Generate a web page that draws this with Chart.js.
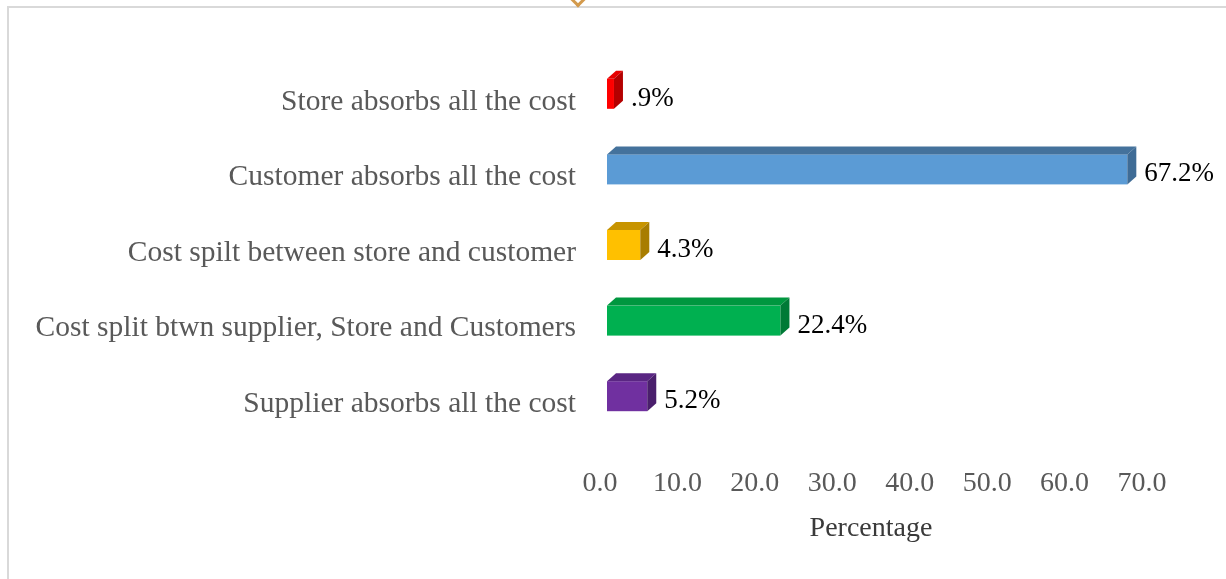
<!DOCTYPE html>
<html>
<head>
<meta charset="utf-8">
<title>Cost absorption</title>
<script src="https://cdn.jsdelivr.net/npm/chart.js@4.4.1/dist/chart.umd.min.js"></script>
<style>
  html, body { margin: 0; padding: 0; background: #fff; }
  #wrap { position: relative; width: 1226px; height: 579px; overflow: hidden; }
  #frame {
    position: absolute; left: 7px; top: 6px; width: 1240px; height: 600px;
    border-left: 2px solid #d9d9d9; border-top: 2px solid #d9d9d9;
  }
  #clip {
    position: absolute; left: 572px; top: -7px; width: 9px; height: 9px;
    border-bottom: 3px solid #d39a4c; border-right: 3px solid #d39a4c;
    transform: rotate(45deg);
  }
  canvas { position: absolute; left: 0; top: 0; }
</style>
</head>
<body>
<div id="wrap">
  <div id="frame"></div>
  <div id="clip"></div>
  <canvas id="costChart" width="1226" height="579"></canvas>
</div>
<script>
'use strict';

// ---- data ----
const categories = [
  'Store absorbs all the cost',
  'Customer absorbs all the cost',
  'Cost spilt between store and customer',
  'Cost split btwn supplier, Store and Customers',
  'Supplier absorbs all the cost'
];
const percentages = [0.9, 67.2, 4.3, 22.4, 5.2];
const axisTicks = [0, 10, 20, 30, 40, 50, 60, 70];
const axisTitle = 'Percentage';

// front / top / side shades for each bar
const faceColors = [
  { front: '#ff0000', top: '#e60000', side: '#b40000' },
  { front: '#5b9bd5', top: '#44729c', side: '#3f6c96' },
  { front: '#ffc000', top: '#c79400', side: '#a87d00' },
  { front: '#00b050', top: '#00973f', side: '#007a36' },
  { front: '#7030a0', top: '#5a2683', side: '#4a1f6c' }
];

const FONT = '"Liberation Serif", "Times New Roman", serif';
const DEPTH_X = 9;   // 3D depth, pixels
const DEPTH_Y = -8;
const SHIFT_X = 7;   // bars sit a little behind the axis labels

const fmtPct = v => v.toFixed(1).replace(/^0\./, '.') + '%';

// draws each bar as a small box (front, top, side) plus its value label
const bars3d = {
  id: 'bars3d',
  beforeDatasetsDraw(chart) {
    const ctx = chart.ctx;
    const meta = chart.getDatasetMeta(0);
    ctx.save();
    meta.data.forEach((bar, i) => {
      const c = faceColors[i];
      const l = bar.base + SHIFT_X;
      const r = bar.x + SHIFT_X;
      const t = bar.y - bar.height / 2;
      const b = bar.y + bar.height / 2;

      ctx.fillStyle = c.front;
      ctx.fillRect(l, t, r - l, b - t);

      ctx.fillStyle = c.top;
      ctx.beginPath();
      ctx.moveTo(l, t);
      ctx.lineTo(r, t);
      ctx.lineTo(r + DEPTH_X, t + DEPTH_Y);
      ctx.lineTo(l + DEPTH_X, t + DEPTH_Y);
      ctx.closePath();
      ctx.fill();

      ctx.fillStyle = c.side;
      ctx.beginPath();
      ctx.moveTo(r, t);
      ctx.lineTo(r + DEPTH_X, t + DEPTH_Y);
      ctx.lineTo(r + DEPTH_X, b + DEPTH_Y);
      ctx.lineTo(r, b);
      ctx.closePath();
      ctx.fill();

      ctx.fillStyle = '#000';
      ctx.font = '27px ' + FONT;
      ctx.textAlign = 'left';
      ctx.textBaseline = 'middle';
      ctx.fillText(fmtPct(percentages[i]), r + DEPTH_X + 8, bar.y + 5);
    });
    ctx.restore();
    return false;
  }
};

new Chart(document.getElementById('costChart'), {
  type: 'bar',
  data: {
    labels: categories,
    datasets: [{
      data: percentages,
      backgroundColor: faceColors.map(c => c.front),
      barThickness: 30
    }]
  },
  options: {
    indexAxis: 'y',
    responsive: false,
    animation: false,
    layout: { padding: { top: 56, right: 84, bottom: 0, left: 0 } },
    plugins: { legend: { display: false }, tooltip: { enabled: false } },
    scales: {
      y: {
        grid: { display: false },
        border: { display: false },
        ticks: {
          color: '#595959',
          font: { family: FONT, size: 29.5 },
          padding: 16,
          labelOffset: 8
        },
        afterFit(scale) { scale.width = 600; }
      },
      x: {
        min: axisTicks[0],
        max: axisTicks[axisTicks.length - 1],
        grid: { display: false },
        border: { display: false },
        afterBuildTicks(scale) { scale.ticks = axisTicks.map(v => ({ value: v })); },
        ticks: {
          color: '#595959',
          font: { family: FONT, size: 28 },
          padding: 25,
          callback: v => v.toFixed(1)
        },
        title: {
          display: true,
          text: axisTitle,
          color: '#3a3a3a',
          font: { family: FONT, size: 28 },
          padding: { top: 0, bottom: 34 }
        },
        afterFit(scale) { scale.height = 145; }
      }
    }
  },
  plugins: [bars3d]
});
</script>
</body>
</html>
